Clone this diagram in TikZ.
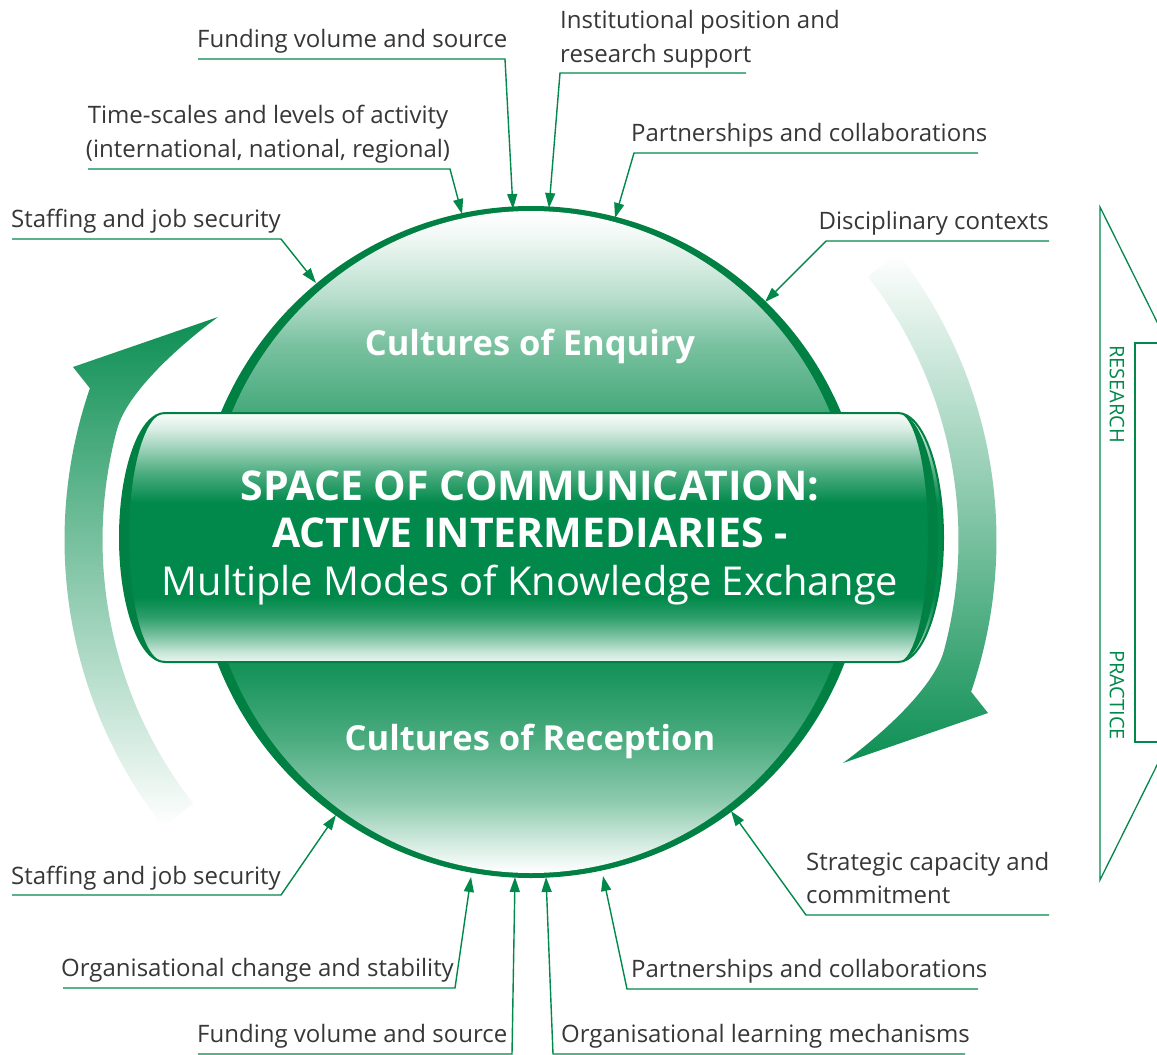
\documentclass[tikz,border=0pt]{standalone}
\usepackage{fontspec}
\setmainfont{Open Sans}
\usetikzlibrary{arrows.meta}
\definecolor{G}{RGB}{0,137,74}
\definecolor{Gd}{RGB}{0,128,66}
\definecolor{txt}{RGB}{55,55,55}
\pgfdeclareverticalshading{circsh}{100bp}{color(0bp)=(white); color(25bp)=(white); color(27bp)=(G!15); color(30.5bp)=(G!45); color(35bp)=(G!70); color(40bp)=(G!90); color(45bp)=(G); color(56bp)=(G!90); color(61bp)=(G!68); color(65bp)=(G!52); color(68.5bp)=(G!28); color(73bp)=(G!6); color(75bp)=(white); color(100bp)=(white)}
\pgfdeclareverticalshading{bannersh}{100bp}{color(0bp)=(white); color(25bp)=(G!8); color(27bp)=(G!22); color(30bp)=(G!50); color(34bp)=(G!82); color(38bp)=(G); color(57bp)=(G); color(63bp)=(G!70); color(68bp)=(G!38); color(72bp)=(G!14); color(75bp)=(G!2); color(100bp)=(white)}
\begin{document}
\begin{tikzpicture}[x=1pt,y=-1pt,
  lbl/.style={text=txt, font=\fontsize{24}{28}\selectfont, inner sep=0pt},
  lead/.style={draw=G, line width=1.4pt, line join=miter, -{Triangle[length=15pt,width=10pt]}},
  bigw/.style={text=white, inner sep=0pt},
  side/.style={draw=G, line width=1.3pt},
  sidetxt/.style={text=G, font=\fontsize{20}{22}\selectfont, inner sep=0pt, rotate=-90}]
\useasboundingbox (0,0) rectangle (1157,1055);
\clip (0,0) rectangle (1157,1055);
\fill[white] (0,0) rectangle (1157,1055);

% curved arrows
\shade[top color=G!95, middle color=G!40, bottom color=white]
  (163.3,826.9) arc[start angle=-218, end angle=-161, radius=466]
  -- (73,367) -- (218,317) .. controls (184,342) and (127.5,390.6) .. (117.1,429.2)
  arc[start angle=-165, end angle=-218, radius=428] -- cycle;
\shade[top color=white, middle color=G!40, bottom color=G!95]
  (897.7,253.1) arc[start angle=-38, end angle=19, radius=466]
  -- (988,713) -- (843,763) .. controls (877,738) and (933.5,689.4) .. (943.9,650.8)
  arc[start angle=15, end angle=-38, radius=428] -- cycle;

% circle
\fill[Gd] (531,542) circle[radius=336];
\shade[shading=circsh] (531,542) ellipse[x radius=325, y radius=331];

% banner
\shade[shading=bannersh, draw=Gd, line width=2pt]
  (165,413) -- (898,413) arc[start angle=-90, end angle=90, x radius=45, y radius=124.5]
  -- (165,662) arc[start angle=90, end angle=270, x radius=45, y radius=124.5] -- cycle;
\fill[Gd] (165,662) arc[start angle=90, end angle=270, x radius=45, y radius=124.5]
  arc[start angle=270, end angle=90, x radius=36, y radius=124.5] -- cycle;
\fill[Gd] (898,413) arc[start angle=-90, end angle=90, x radius=40, y radius=124.5]
  arc[start angle=90, end angle=-90, x radius=30, y radius=124.5] -- cycle;

% centre texts
\node[bigw, font=\bfseries\fontsize{34.5}{36}\selectfont, anchor=base] (enq) at (530,355) {Cultures of Enquiry};
\node[bigw, font=\bfseries\fontsize{34.5}{36}\selectfont, anchor=base] (rec) at (530,750) {Cultures of Reception};
\node[bigw, font=\bfseries\fontsize{41}{42}\selectfont, anchor=base] (sp1) at (530,500) {SPACE OF COMMUNICATION:};
\node[bigw, font=\bfseries\fontsize{41}{42}\selectfont, anchor=base] (sp2) at (530,547) {ACTIVE INTERMEDIARIES -};
\node[bigw, font=\fontsize{39.8}{42}\selectfont, anchor=base] (sp3) at (530,595) {Multiple Modes of Knowledge Exchange};

% top labels
\node[lbl, anchor=base west] (t1) at (197,47) {Funding volume and source};
\coordinate (t1s) at (198,59); \coordinate (t1e) at (505,59); \coordinate (t1p) at (513,209);
\draw[lead] (t1s) -- (t1e) -- (t1p);

\node[lbl, anchor=base west] (t2a) at (560,28) {Institutional position and};
\node[lbl, anchor=base west] (t2b) at (560,62) {research support};
\coordinate (t2s) at (746,73); \coordinate (t2e) at (560,73); \coordinate (t2p) at (549,208);
\draw[lead] (t2s) -- (t2e) -- (t2p);

\node[lbl, anchor=base] (t3a) at (268,123) {Time-scales and levels of activity};
\node[lbl, anchor=base] (t3b) at (268,157) {(international, national, regional)};
\coordinate (t3s) at (88,169); \coordinate (t3e) at (450,169); \coordinate (t3p) at (462,214);
\draw[lead] (t3s) -- (t3e) -- (t3p);

\node[lbl, anchor=base west] (t4) at (631,141) {Partnerships and collaborations};
\coordinate (t4s) at (978,153); \coordinate (t4e) at (634,153); \coordinate (t4p) at (615,218);
\draw[lead] (t4s) -- (t4e) -- (t4p);

\node[lbl, anchor=base west] (t5) at (11,227) {Staffing and job security};
\coordinate (t5s) at (12,239); \coordinate (t5e) at (281,239); \coordinate (t5p) at (316,283);
\draw[lead] (t5s) -- (t5e) -- (t5p);

\node[lbl, anchor=base east] (t6) at (1049,229) {Disciplinary contexts};
\coordinate (t6s) at (1049,241); \coordinate (t6e) at (826,241); \coordinate (t6p) at (765,302);
\draw[lead] (t6s) -- (t6e) -- (t6p);

% bottom labels
\node[lbl, anchor=base west] (b1) at (11,884) {Staffing and job security};
\coordinate (b1s) at (12,895); \coordinate (b1e) at (281,895); \coordinate (b1p) at (336,815);
\draw[lead] (b1s) -- (b1e) -- (b1p);

\node[lbl, anchor=base west] (b2a) at (806,870) {Strategic capacity and};
\node[lbl, anchor=base west] (b2b) at (806,903) {commitment};
\coordinate (b2s) at (1049,915); \coordinate (b2e) at (806,915); \coordinate (b2p) at (731,811);
\draw[lead] (b2s) -- (b2e) -- (b2p);

\node[lbl, anchor=base west] (b3) at (61,976) {Organisational change and stability};
\coordinate (b3s) at (63,988); \coordinate (b3e) at (455,988); \coordinate (b3p) at (471,877);
\draw[lead] (b3s) -- (b3e) -- (b3p);

\node[lbl, anchor=base west] (b4) at (631,977) {Partnerships and collaborations};
\coordinate (b4s) at (978,989); \coordinate (b4e) at (627,989); \coordinate (b4p) at (603,876);
\draw[lead] (b4s) -- (b4e) -- (b4p);

\node[lbl, anchor=base west] (b5) at (197,1042) {Funding volume and source};
\coordinate (b5s) at (198,1054); \coordinate (b5e) at (512,1054); \coordinate (b5p) at (515,877);
\draw[lead] (b5s) -- (b5e) -- (b5p);

\node[lbl, anchor=base west] (b6) at (561,1042) {Organisational learning mechanisms};
\coordinate (b6s) at (965,1054); \coordinate (b6e) at (553,1054); \coordinate (b6p) at (546,877);
\draw[lead] (b6s) -- (b6e) -- (b6p);

% right-hand block arrow (cut by the edge)
\coordinate (ra) at (1167,342); \coordinate (rb) at (1100,207);
\coordinate (rc) at (1100,880); \coordinate (rd) at (1167,745);
\draw[side] (ra) -- (rb) -- (rc) -- (rd);
\coordinate (re) at (1167,343); \coordinate (rf) at (1135,343);
\coordinate (rg) at (1135,742); \coordinate (rh) at (1167,742);
\draw[side] (re) -- (rf) -- (rg) -- (rh);
\node[sidetxt] (res) at (1117,394) {RESEARCH};
\node[sidetxt] (pra) at (1117,695) {PRACTICE};
\end{tikzpicture}
\end{document}
